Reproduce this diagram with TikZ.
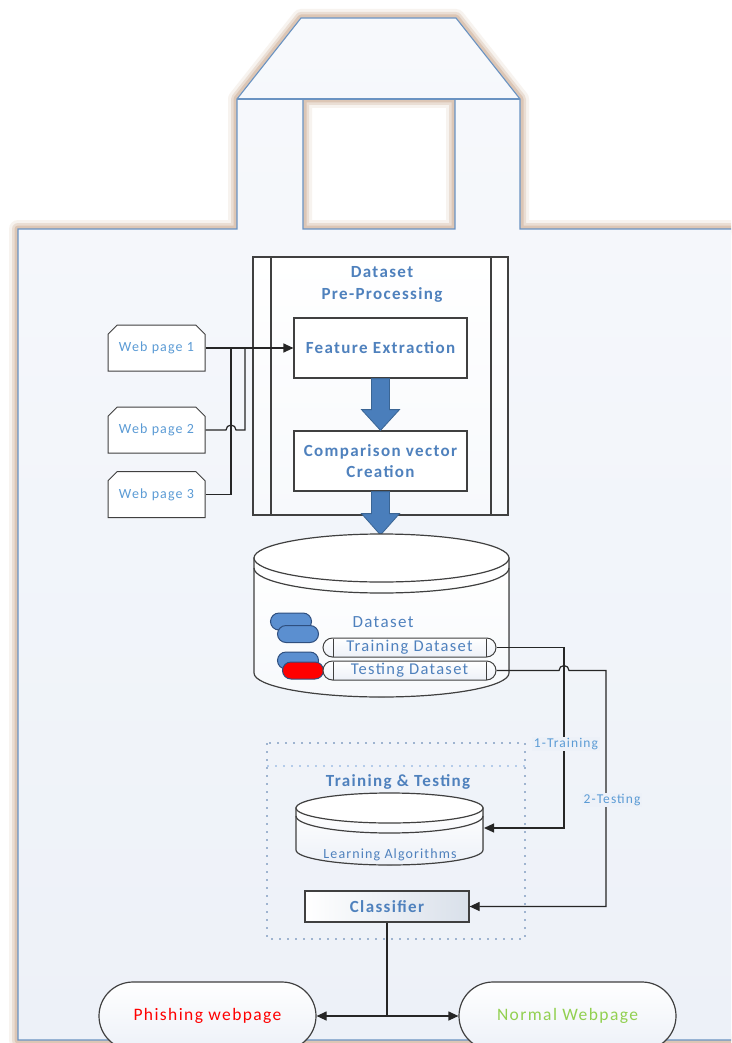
\documentclass[tikz,border=0pt]{standalone}
\usepackage{fontspec}
\setmainfont[LetterSpace=8]{Carlito}
\usetikzlibrary{shapes.misc,arrows.meta,calc}
\definecolor{txtblue}{HTML}{4F81BD}
\definecolor{lblue}{HTML}{5B9BD5}
\definecolor{bagline}{HTML}{6A93C2}
\definecolor{bagtop}{HTML}{F7F9FC}
\definecolor{bagbot}{HTML}{EDF1F8}
\definecolor{tan}{HTML}{CFAF98}
\definecolor{edge}{HTML}{404040}
\definecolor{pillblue}{HTML}{5B8FD0}
\definecolor{pillline}{HTML}{2F4F7F}
\definecolor{arrowblue}{HTML}{4A7EBB}
\definecolor{arrowline}{HTML}{3A6594}
\definecolor{dotblue}{HTML}{9FB4D0}
\definecolor{dotlight}{HTML}{B5CCEA}
\definecolor{greentxt}{HTML}{92D050}
\definecolor{redfill}{HTML}{FF0000}
\definecolor{clsright}{HTML}{D9E0EA}
\tikzset{
  procbox/.style={draw=edge, line width=1.2pt, fill=white, minimum width=173pt, minimum height=60pt, inner sep=2pt,
     align=center, text=txtblue, font=\fontsize{17}{21}\selectfont\bfseries},
  webpg/.style={chamfered rectangle, chamfered rectangle corners={north west,north east},
     chamfered rectangle xsep=7pt, draw=edge, line width=1pt, fill=white,
     minimum width=97pt, minimum height=46pt, inner sep=0pt, text=lblue,
     font=\fontsize{14}{14}\selectfont},
  bar/.style={rounded rectangle, draw=edge, line width=1pt, top color=white, bottom color=bagbot,
     minimum width=173pt, minimum height=19pt, inner sep=0pt, text=txtblue,
     font=\fontsize{16.5}{16.5}\selectfont},
  pill/.style={rounded rectangle, draw=pillline, line width=1pt, fill=#1,
     minimum width=41pt, minimum height=17pt, inner sep=0pt},
  conn/.style={draw=black!85, line width=1.2pt},
  tip/.style={-{Triangle[length=10pt,width=9pt]}},
  stad/.style={rounded rectangle, draw=edge, line width=1.2pt, top color=white, bottom color=bagbot,
     minimum width=217pt, minimum height=68pt, inner sep=0pt, font=\fontsize{17.5}{17.5}\selectfont},
  barrow/.style={fill=arrowblue, draw=arrowline, line width=0.8pt},
  lbl/.style={text=lblue, fill=bagbot, inner sep=1.5pt, font=\fontsize{13.5}{14}\selectfont},
  cyl/.style={draw=edge, line width=1.2pt},
}
\begin{document}
\begin{tikzpicture}[x=1pt,y=-1pt]
\useasboundingbox (0,0) rectangle (731,1043);
\clip (0,0) rectangle (731,1043);
\fill[white] (0,0) rectangle (731,1043);
% ---- bag outline ----
\def\bagpath{(18,1040) -- (18,229) -- (237,229) -- (237,99) -- (301,18) -- (456,18) -- (520,99) -- (520,229) -- (745,229) -- (745,1040) -- cycle (303,99) -- (455,99) -- (455,229) -- (303,229) -- cycle}
\draw[tan, line width=18pt, opacity=0.15, line join=round] \bagpath;
\draw[tan, line width=12pt, opacity=0.3, line join=round] \bagpath;
\draw[tan, line width=7pt, opacity=0.5, line join=round] \bagpath;
\shade[even odd rule, top color=bagtop, bottom color=bagbot] \bagpath;
\draw[bagline, line width=1.1pt] \bagpath;
\draw[bagline, line width=1.1pt] (237,99) -- (520,99);
% ---- pre-processing ----
\node[draw=edge, line width=1.3pt, top color=white, bottom color=bagtop, minimum width=255pt, minimum height=258pt, inner sep=0pt] (pre) at (380.5,386) {};
\draw[edge, line width=1.2pt] (271,257) -- (271,515) (491,257) -- (491,515);
\node[text=txtblue, align=center, font=\fontsize{17}{22}\selectfont\bfseries] (pret) at (382,284) {Dataset\\Pre-Processing};
\node[procbox] (fe) at (380.5,348) {Feature Extraction};
\node[procbox] (cvc) at (380.5,461) {Comparison vector\\Creation};
% ---- web pages ----
\node[webpg] (w1) at (156.5,348) {Web page 1};
\node[webpg] (w2) at (156.5,430) {Web page 2};
\node[webpg] (w3) at (156.5,494.5) {Web page 3};
\draw[conn, tip] (w1.east) -- (fe.west);
\draw[conn] (w3.east) -- (231,494.5) -- (231,348);
\draw[conn] (w2.east) -- (226,430) arc[start angle=180, end angle=0, radius=5pt] -- (245,430) -- (245,348);
% ---- block arrows ----
\fill[barrow] ($(fe.south)+(-9,0)$) -- ($(fe.south)+(-9,31)$) -- ($(fe.south)+(-19,31)$) -- (cvc.north) -- ($(fe.south)+(19,31)$) -- ($(fe.south)+(9,31)$) -- ($(fe.south)+(9,0)$) -- cycle;
\coordinate (dstop) at (380.5,535);
\fill[barrow] ($(cvc.south)+(-9,0)$) -- ($(cvc.south)+(-9,22)$) -- ($(cvc.south)+(-19,22)$) -- (dstop) -- ($(cvc.south)+(19,22)$) -- ($(cvc.south)+(9,22)$) -- ($(cvc.south)+(9,0)$) -- cycle;
% ---- dataset cylinder ----
\filldraw[cyl, top color=white, bottom color=bagtop] (254,558) -- (254,673) arc[start angle=180, end angle=360, x radius=127.5pt, y radius=24pt] -- (509,558) -- cycle;
\filldraw[cyl, fill=white] (381.5,558) ellipse[x radius=127.5pt, y radius=24pt];
\draw[cyl] (254,568) arc[start angle=180, end angle=360, x radius=127.5pt, y radius=25pt];
\node[text=txtblue, font=\fontsize{17}{17}\selectfont] (ds) at (383,622) {Dataset};
\node[pill=pillblue] (p1) at (291,621.5) {};
\node[pill=pillblue] (p2) at (298,634) {};
\node[pill=pillblue] (p3) at (298,660.5) {};
\node[pill=redfill] (p4) at (303,670.5) {};
\node[bar] (tr) at (409.5,647.5) {Training Dataset};
\node[bar] (te) at (409.5,670.5) {Testing Dataset};
\draw[edge, line width=1pt] (333,638.5) -- (333,656.5) (486,638.5) -- (486,656.5);
\draw[edge, line width=1pt] (333,661.5) -- (333,679.5) (486,661.5) -- (486,679.5);
% ---- training & testing group ----
\draw[dotblue, line width=2pt, dash pattern=on 2pt off 6pt] (267,743) rectangle (525,939);
\draw[dotlight, line width=2pt, dash pattern=on 2pt off 6pt] (267,766) -- (525,766);
\node[text=txtblue, font=\fontsize{17}{17}\selectfont\bfseries] (tt) at (398,782) {Training \& Testing};
\filldraw[cyl, top color=white, bottom color=bagbot] (296,808) -- (296,850) arc[start angle=180, end angle=360, x radius=93.5pt, y radius=15pt] -- (483,808) -- cycle;
\filldraw[cyl, fill=white] (389.5,808) ellipse[x radius=93.5pt, y radius=15pt];
\draw[cyl] (296,816) arc[start angle=180, end angle=360, x radius=93.5pt, y radius=17pt];
\node[text=txtblue, font=\fontsize{14}{14}\selectfont] (la) at (390,855) {Learning Algorithms};
\coordinate (lain) at (484,828);
\node[draw=edge, line width=1.2pt, left color=white, right color=clsright, minimum width=164pt, minimum height=31pt, inner sep=0pt, text=txtblue, font=\fontsize{17}{17}\selectfont\bfseries] (cl) at (387,906.5) {Classifier};
% ---- training/testing connectors ----
\draw[conn, tip] (tr.east) -- (564,647.5) -- (564,828) -- (lain);
\draw[conn, tip] (te.east) -- (559,670.5) arc[start angle=180, end angle=0, radius=5pt] -- (606,670.5) -- (606,906.5) -- (cl.east);
\node[lbl] (l1) at (566,744) {1-Training};
\node[lbl] (l2) at (612,800) {2-Testing};
% ---- outputs ----
\node[stad, text=redfill] (ph) at (207.5,1016) {Phishing webpage};
\node[stad, text=greentxt] (nw) at (567.5,1016) {Normal Webpage};
\coordinate (split) at (387,1016);
\draw[conn] (cl.south) -- (split);
\draw[conn, tip] (split) -- (ph.east);
\draw[conn, tip] (split) -- (nw.west);
\end{tikzpicture}
\end{document}
